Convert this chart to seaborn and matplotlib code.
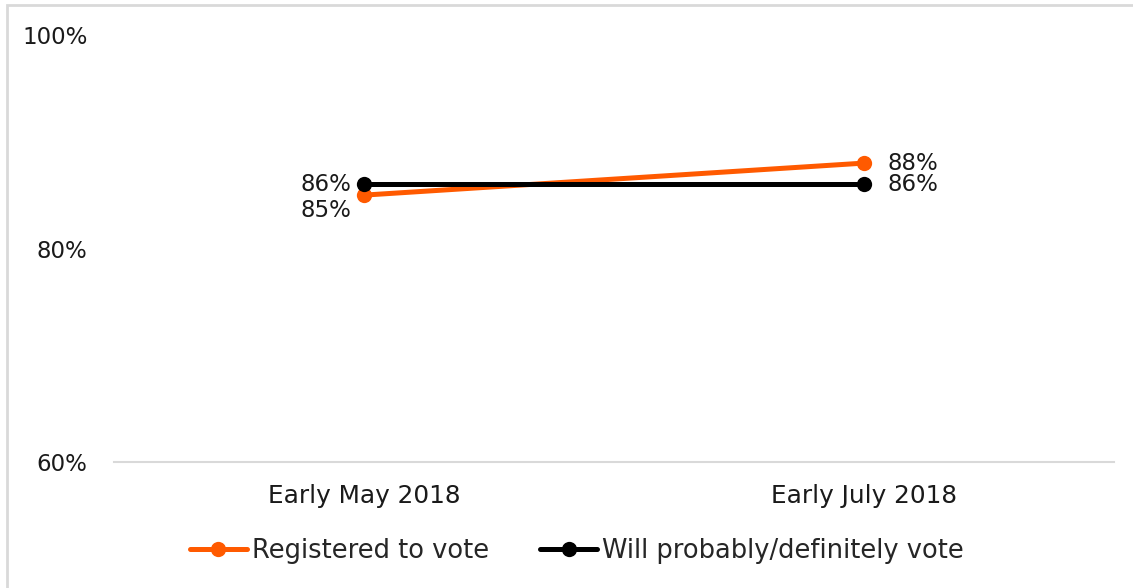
import matplotlib
matplotlib.use("Agg")
import matplotlib.pyplot as plt
import seaborn as sns
import pandas as pd
from matplotlib.patches import Rectangle

periods = ["Early May 2018", "Early July 2018"]
registered = [85, 88]
will_vote = [86, 86]
series_names = ["Registered to vote", "Will probably/definitely vote"]
y_ticks = [60, 80, 100]

df = pd.DataFrame({
    "period": periods * 2,
    "value": registered + will_vote,
    "series": [series_names[0]] * 2 + [series_names[1]] * 2,
})

sns.set_theme(style="white")
plt.rcParams["font.family"] = ["DejaVu Sans"]
FS = 16.5
FSX = 17.8
FSL = 18.5

fig = plt.figure(figsize=(11.33, 5.88), dpi=100)
ax = fig.add_axes([114 / 1133, 1 - 462 / 588, 1000 / 1133, 427 / 588])

colors = {series_names[0]: "#FF5A00", series_names[1]: "#000000"}
sns.lineplot(data=df, x="period", y="value", hue="series", palette=colors,
             marker="o", markersize=11, markeredgewidth=0, linewidth=3.6,
             ax=ax, legend=True, sort=False)

ax.set_xlim(-0.5, 1.5)
ax.set_ylim(60, 100)
ax.set_yticks(y_ticks)
ax.set_yticklabels([f"{v}%" for v in y_ticks], fontsize=FS, color="#1a1a1a")
ax.tick_params(axis="y", length=0, pad=19)
ax.tick_params(axis="x", length=0, pad=16, labelsize=FSX, labelcolor="#1a1a1a")
ax.set_xlabel("")
ax.set_ylabel("")
for s in ["top", "right", "left"]:
    ax.spines[s].set_visible(False)
ax.spines["bottom"].set_color("#d9d9d9")
ax.spines["bottom"].set_linewidth(1.5)
ax.grid(False)

# data labels
for i, (r, w) in enumerate(zip(registered, will_vote)):
    if i == 0:
        ax.annotate(f"{w}%", (i, w), xytext=(-9, 0), textcoords="offset points",
                    ha="right", va="center", fontsize=FS, color="#1a1a1a")
        ax.annotate(f"{r}%", (i, r), xytext=(-9, -11), textcoords="offset points",
                    ha="right", va="center", fontsize=FS, color="#1a1a1a")
    else:
        ax.annotate(f"{r}%", (i, r), xytext=(17, 0), textcoords="offset points",
                    ha="left", va="center", fontsize=FS, color="#1a1a1a")
        ax.annotate(f"{w}%", (i, w), xytext=(17, 0), textcoords="offset points",
                    ha="left", va="center", fontsize=FS, color="#1a1a1a")

handles, labels = ax.get_legend_handles_labels()
ax.get_legend().remove()
fig.legend(handles, labels, loc="center", bbox_to_anchor=(577 / 1133, 1 - 551 / 588),
           ncol=2, frameon=False, fontsize=FSL, handlelength=2.2,
           handletextpad=0.2, columnspacing=2.0)

fig.patches.append(Rectangle((7 / 1133, -0.1), 1.2, 1 - 5 / 588 + 0.1,
                             transform=fig.transFigure, fill=False,
                             edgecolor="#d9d9d9", linewidth=2))

fig.savefig("out.png", dpi=100)
